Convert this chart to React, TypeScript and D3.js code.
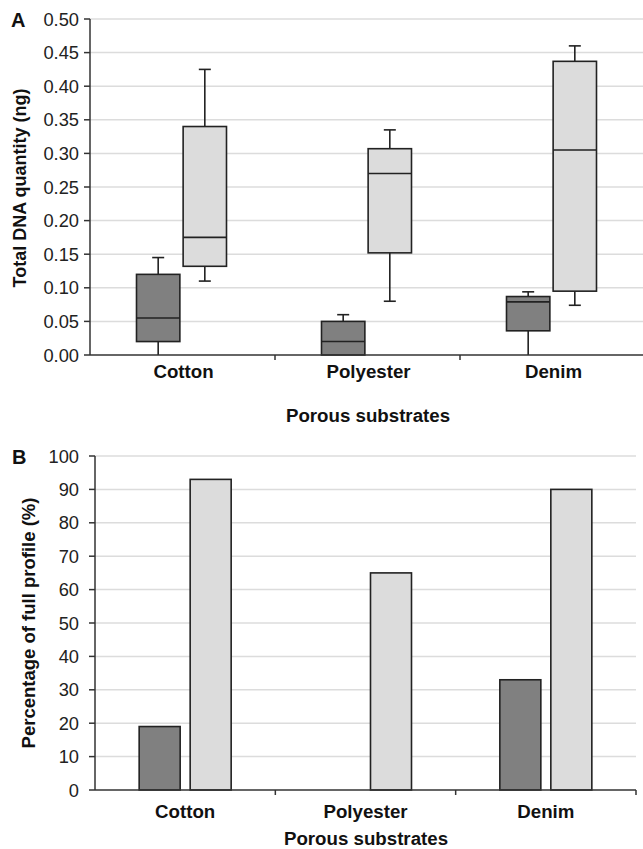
import React from "react";
import * as d3 from "d3";

const categories = ["Cotton", "Polyester", "Denim"];
const seriesKeys = ["dark", "light"];

// Panel A box plot stats per category: [min, q1, median, q3, max]
const darkBoxes = [
  [0.0, 0.02, 0.055, 0.12, 0.145],
  [0.0, 0.0, 0.02, 0.05, 0.06],
  [0.0, 0.036, 0.079, 0.087, 0.094],
];
const lightBoxes = [
  [0.11, 0.132, 0.175, 0.34, 0.425],
  [0.08, 0.152, 0.27, 0.307, 0.335],
  [0.074, 0.095, 0.305, 0.437, 0.46],
];
const yTicksA = [0, 0.05, 0.1, 0.15, 0.2, 0.25, 0.3, 0.35, 0.4, 0.45, 0.5];

// Panel B percentages
const darkPct = [19, 0, 33];
const lightPct = [93, 65, 90];
const yTicksB = [0, 10, 20, 30, 40, 50, 60, 70, 80, 90, 100];

const FONT = "'Liberation Sans', Arial, sans-serif";
const fills: Record<string, string> = { dark: "#808080", light: "#dcdcdc" };
const GRID = "#dcdcdc";
const AXIS = "#333";
const LABEL = 18.7;

function PanelA() {
  const left = 90, right = 645, top = 19, bottom = 355;
  const x = d3.scaleBand().domain(categories).range([left, right]);
  const inner = d3.scaleBand().domain(seriesKeys).range([-46, 44]).paddingInner(0.07);
  const y = d3.scaleLinear().domain([0, 0.5]).range([bottom, top]);
  const bw = inner.bandwidth();
  const capW = 12;

  return (
    <g>
      {yTicksA.slice(1).map((t) => (
        <line key={t} x1={left} x2={643} y1={y(t)} y2={y(t)} stroke={GRID} strokeWidth={1.5} />
      ))}
      {categories.map((c, i) =>
        seriesKeys.map((k) => {
          const [mn, q1, md, q3, mx] = (k === "dark" ? darkBoxes : lightBoxes)[i];
          const x0 = x(c)! + x.bandwidth() / 2 + inner(k)!;
          const cx = x0 + bw / 2;
          return (
            <g key={c + k} stroke="#222" strokeWidth={1.6}>
              <line x1={cx} x2={cx} y1={y(q3)} y2={y(mx)} />
              <line x1={cx - capW / 2} x2={cx + capW / 2} y1={y(mx)} y2={y(mx)} />
              <line x1={cx} x2={cx} y1={y(q1)} y2={y(mn)} />
              {mn > 0 && <line x1={cx - capW / 2} x2={cx + capW / 2} y1={y(mn)} y2={y(mn)} />}
              <rect x={x0} y={y(q3)} width={bw} height={y(q1) - y(q3)} fill={fills[k]} />
              <line x1={x0} x2={x0 + bw} y1={y(md)} y2={y(md)} />
            </g>
          );
        })
      )}
      {/* axes */}
      <line x1={left} x2={left} y1={top} y2={bottom} stroke={AXIS} strokeWidth={1.5} />
      <line x1={left} x2={643} y1={bottom} y2={bottom} stroke={AXIS} strokeWidth={1.5} />
      {yTicksA.map((t) => (
        <g key={t}>
          <line x1={left - 6} x2={left} y1={y(t)} y2={y(t)} stroke={AXIS} strokeWidth={1.5} />
          <text x={79} y={y(t) + 6.5} textAnchor="end" fontSize={18.3} fill="#222">
            {t.toFixed(2)}
          </text>
        </g>
      ))}
      {categories.slice(1).map((c) => (
        <line key={c} x1={x(c)} x2={x(c)} y1={bottom} y2={bottom + 5} stroke={AXIS} strokeWidth={1.5} />
      ))}
      {categories.map((c) => (
        <text key={c} x={x(c)! + x.bandwidth() / 2 + 1} y={378} textAnchor="middle" fontSize={LABEL} fontWeight="bold" fill="#111">
          {c}
        </text>
      ))}
      <text x={368} y={421.5} textAnchor="middle" fontSize={LABEL} fontWeight="bold" fill="#111">
        Porous substrates
      </text>
      <text transform={`translate(26,${(top + bottom) / 2 + 1}) rotate(-90)`} textAnchor="middle" fontSize={18} fontWeight="bold" fill="#111">
        Total DNA quantity (ng)
      </text>
      <text x={11} y={27} fontSize={20} fontWeight="bold" fill="#111">A</text>
    </g>
  );
}

function PanelB() {
  const left = 95, right = 636, top = 456, bottom = 790;
  const x = d3.scaleBand().domain(categories).range([left, right]);
  const inner = d3.scaleBand().domain(seriesKeys).range([-46, 46]).paddingInner(0.196);
  const y = d3.scaleLinear().domain([0, 100]).range([bottom, top]);
  const bw = inner.bandwidth();

  return (
    <g>
      {yTicksB.slice(1).map((t) => (
        <line key={t} x1={left} x2={right} y1={y(t)} y2={y(t)} stroke={GRID} strokeWidth={1.5} />
      ))}
      {categories.map((c, i) =>
        seriesKeys.map((k) => {
          const v = (k === "dark" ? darkPct : lightPct)[i];
          if (v <= 0) return null;
          const x0 = x(c)! + x.bandwidth() / 2 + inner(k)!;
          return (
            <rect key={c + k} x={x0} y={y(v)} width={bw} height={y(0) - y(v)} fill={fills[k]} stroke="#222" strokeWidth={1.6} />
          );
        })
      )}
      <line x1={left} x2={left} y1={top} y2={bottom} stroke={AXIS} strokeWidth={1.5} />
      <line x1={left} x2={right} y1={bottom} y2={bottom} stroke={AXIS} strokeWidth={1.5} />
      {yTicksB.map((t) => (
        <g key={t}>
          <line x1={left - 6} x2={left} y1={y(t)} y2={y(t)} stroke={AXIS} strokeWidth={1.5} />
          <text x={79} y={y(t) + 6.5} textAnchor="end" fontSize={18.3} fill="#222">
            {t}
          </text>
        </g>
      ))}
      {[...categories.slice(1).map((c) => x(c)!), right].map((p) => (
        <line key={p} x1={p} x2={p} y1={bottom} y2={bottom + 5} stroke={AXIS} strokeWidth={1.5} />
      ))}
      {categories.map((c) => (
        <text key={c} x={x(c)! + x.bandwidth() / 2} y={818} textAnchor="middle" fontSize={LABEL} fontWeight="bold" fill="#111">
          {c}
        </text>
      ))}
      <text x={366} y={845} textAnchor="middle" fontSize={LABEL} fontWeight="bold" fill="#111">
        Porous substrates
      </text>
      <text transform={`translate(35,${(top + bottom) / 2}) rotate(-90)`} textAnchor="middle" fontSize={18.5} fontWeight="bold" fill="#111">
        Percentage of full profile (%)
      </text>
      <text x={12} y={464} fontSize={20} fontWeight="bold" fill="#111">B</text>
    </g>
  );
}

export default function App() {
  return (
    <svg
      width={643}
      height={849}
      style={{ position: "absolute", left: 0, top: 0, background: "#fff" }}
      fontFamily={FONT}
    >
      <rect width={643} height={849} fill="#fff" />
      <PanelA />
      <PanelB />
    </svg>
  );
}
